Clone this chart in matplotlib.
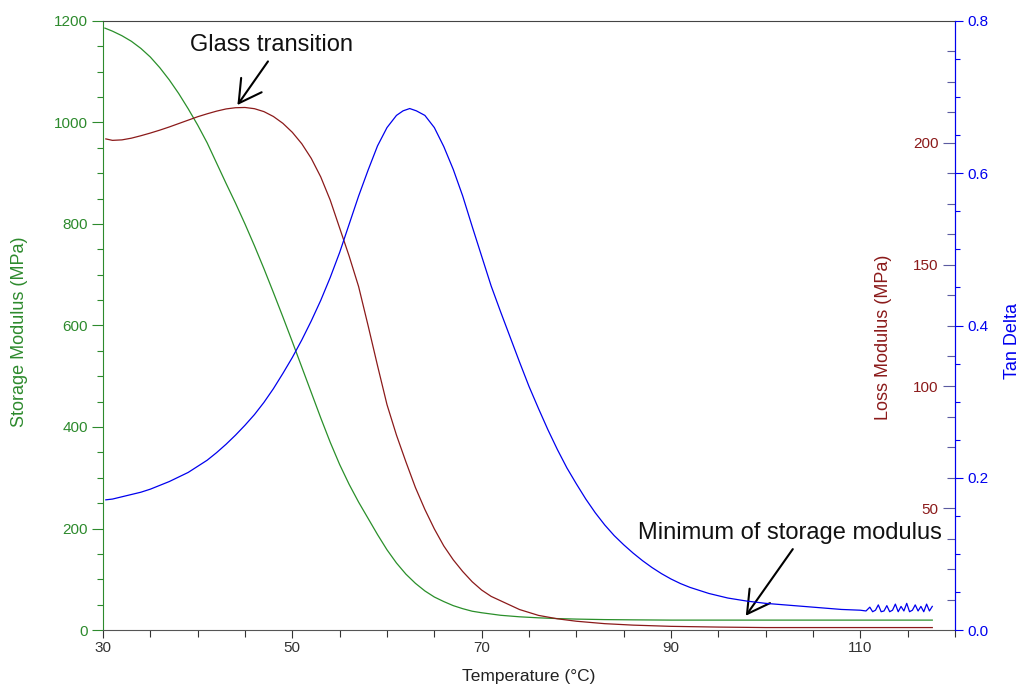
import matplotlib
matplotlib.use("Agg")
import matplotlib.pyplot as plt
from matplotlib.ticker import MultipleLocator, FixedLocator

plt.rcParams['font.family'] = ['Liberation Sans', 'DejaVu Sans']

# ---------------- data ----------------
storage_T = [30.2, 31, 32, 33, 34, 35, 36, 37, 38, 39, 40, 41, 42, 43, 44, 45, 46, 47,
             48, 49, 50, 51, 52, 53, 54, 55, 56, 57, 58, 59, 60, 61, 62, 63, 64, 65,
             66, 67, 68, 69, 70, 72, 74, 76, 78, 80, 83, 86, 90, 100, 110, 117.6]
storage_MPa = [1186, 1180, 1171, 1160, 1146, 1129, 1108, 1084, 1057, 1027, 995, 960,
               920, 880, 841, 800, 757, 712, 665, 617, 568, 518, 468, 418, 370, 326,
               287, 252, 220, 188, 158, 132, 110, 92, 77, 65, 56, 48, 42, 37, 34, 29,
               26, 24, 22.5, 21.5, 20.5, 20, 19.5, 19.5, 19.5, 19.5]

loss_T = [30.3, 31, 32, 33, 34, 35, 36, 37, 38, 39, 40, 41, 42, 43, 44, 45, 46, 47, 48,
          49, 50, 51, 52, 53, 54, 55, 56, 57, 58, 59, 60, 61, 62, 63, 64, 65, 66, 67,
          68, 69, 70, 71, 72, 74, 76, 78, 80, 83, 86, 90, 95, 100, 110, 117.6]
loss_MPa = [201.6, 201.0, 201.2, 201.9, 202.9, 204.0, 205.2, 206.5, 207.9, 209.3,
            210.7, 211.9, 213.0, 213.9, 214.4, 214.5, 214.0, 212.8, 210.8, 208.0,
            204.3, 199.6, 193.6, 186.0, 176.5, 165.0, 153.5, 141.0, 125.0, 108.5,
            92.5, 80.0, 69.0, 58.5, 49.5, 41.5, 34.5, 28.8, 24.0, 19.8, 16.4, 13.8,
            12.0, 8.4, 6.0, 4.6, 3.6, 2.6, 2.0, 1.5, 1.2, 1.0, 1.0, 1.0]

tan_T = [30.3, 31, 32, 33, 34, 35, 36, 37, 38, 39, 40, 41, 42, 43, 44, 45, 46, 47, 48,
         49, 50, 51, 52, 53, 54, 55, 56, 57, 58, 59, 60, 61, 61.7, 62.4, 63.1, 64, 65,
         66, 67, 68, 69, 70, 71, 72, 73, 74, 75, 76, 77, 78, 79, 80, 81, 82, 83, 84,
         85, 86, 87, 88, 89, 90, 91, 92, 93, 94, 95, 96, 98, 100, 102, 104, 106, 108,
         110, 110.6, 111.0, 111.3, 111.6, 111.9, 112.2, 112.5, 112.8, 113.1, 113.4,
         113.7, 114.0, 114.3, 114.6, 114.9, 115.2, 115.5, 115.8, 116.1, 116.4, 116.7,
         117.0, 117.3, 117.6]
tan_delta = [0.171, 0.172, 0.175, 0.178, 0.181, 0.185, 0.190, 0.195, 0.201, 0.207,
             0.215, 0.223, 0.233, 0.244, 0.256, 0.269, 0.283, 0.299, 0.317, 0.337,
             0.358, 0.381, 0.406, 0.433, 0.463, 0.496, 0.533, 0.570, 0.604, 0.636,
             0.660, 0.676, 0.682, 0.685, 0.682, 0.676, 0.660, 0.635, 0.605, 0.570,
             0.530, 0.491, 0.452, 0.418, 0.385, 0.352, 0.320, 0.291, 0.263, 0.237,
             0.213, 0.192, 0.172, 0.154, 0.138, 0.124, 0.112, 0.101, 0.091, 0.082,
             0.074, 0.067, 0.061, 0.056, 0.052, 0.048, 0.045, 0.042, 0.038, 0.035,
             0.033, 0.031, 0.029, 0.027, 0.026,
             0.025, 0.030, 0.024, 0.026, 0.033, 0.024, 0.025, 0.032, 0.024, 0.026,
             0.034, 0.024, 0.031, 0.025, 0.035, 0.024, 0.026, 0.033, 0.025, 0.031,
             0.024, 0.034, 0.025, 0.031]

x_ticks = [30, 50, 70, 90, 110]
storage_ticks = [0, 200, 400, 600, 800, 1000, 1200]
loss_ticks = [50, 100, 150, 200]
tan_ticks = [0.0, 0.2, 0.4, 0.6, 0.8]

# ---------------- styling ----------------
GREEN = '#2d8a2d'
GREEN_LINE = '#2a8f2a'
RED = '#8b1a1a'
BLUE = '#0000ee'

fig = plt.figure(figsize=(10.21, 6.86), dpi=100)
ax = fig.add_axes([103/1021, 56/686, 852/1021, 609/686])
ax2 = ax.twinx()
ax3 = ax.twinx()

ax.plot(storage_T, storage_MPa, color=GREEN_LINE, lw=0.9)
ax2.plot(loss_T, loss_MPa, color=RED, lw=0.9)
ax3.plot(tan_T, tan_delta, color=BLUE, lw=0.9)

ax.set_xlim(30, 120)
ax.set_ylim(0, 1200)
ax2.set_ylim(0, 250)
ax3.set_ylim(0, 0.8)

# x axis
ax.set_xticks(x_ticks)
ax.xaxis.set_minor_locator(MultipleLocator(5))
ax.tick_params(axis='x', which='major', direction='out', length=6, width=0.8,
               labelsize=11, colors='#333333', pad=2)
ax.tick_params(axis='x', which='minor', direction='out', length=5, width=0.8,
               colors='#333333')
ax.set_xlabel('Temperature (°C)', fontsize=12.5, color='#222222', labelpad=10)

# storage axis (left)
ax.set_yticks(storage_ticks)
ax.yaxis.set_minor_locator(MultipleLocator(50))
ax.tick_params(axis='y', which='major', direction='out', length=8, width=0.8,
               labelsize=11, colors=GREEN, pad=3)
ax.tick_params(axis='y', which='minor', direction='out', length=4.5, width=0.8,
               colors=GREEN)
ax.spines['left'].set_color(GREEN)
ax.spines['right'].set_visible(False)
ax.spines['top'].set_color('#444444')
ax.spines['bottom'].set_color('#555555')
ax.text(-0.098, 0.49, 'Storage Modulus (MPa)', transform=ax.transAxes, rotation=90,
        ha='center', va='center', fontsize=13, color=GREEN)

# loss axis (ticks on the inside of the right spine)
for s in ax2.spines.values():
    s.set_visible(False)
ax2.yaxis.tick_left()
ax2.spines['left'].set_position(('axes', 1.0))
ax2.spines['left'].set_visible(True)
ax2.spines['left'].set_color(BLUE)
ax2.yaxis.set_major_locator(FixedLocator(loss_ticks))
ax2.yaxis.set_minor_locator(FixedLocator([v * 12.5 for v in range(1, 20) if v % 4 != 0]))
ax2.tick_params(axis='y', which='major', direction='out', length=9, width=0.8,
                labelsize=11, colors='#5a5aa0', labelcolor=RED, pad=3)
ax2.tick_params(axis='y', which='minor', direction='out', length=5.5, width=0.8,
                colors='#5a5aa0')
ax2.text(0.9155, 0.48, 'Loss Modulus (MPa)', transform=ax.transAxes, rotation=90,
         ha='center', va='center', fontsize=13, color=RED)

# tan delta axis (right)
for s in ax3.spines.values():
    s.set_visible(False)
ax3.spines['right'].set_visible(True)
ax3.spines['right'].set_color(BLUE)
ax3.set_yticks(tan_ticks)
ax3.yaxis.set_minor_locator(MultipleLocator(0.05))
ax3.tick_params(axis='y', which='major', direction='out', length=6, width=0.8,
                labelsize=11, colors=BLUE, pad=3)
ax3.tick_params(axis='y', which='minor', direction='out', length=3.5, width=0.8,
                colors=BLUE)
ax3.set_yticklabels(['0.0', '0.2', '0.4', '0.6', '0.8'])
ax3.text(1.067, 0.475, 'Tan Delta', transform=ax.transAxes, rotation=90,
         ha='center', va='center', fontsize=13, color=BLUE)

# annotations
arrow = dict(arrowstyle='->, head_length=0.8, head_width=0.45', color='black',
             lw=1.5, shrinkA=2, shrinkB=0, mutation_scale=20)
ax2.annotate('Glass transition', xy=(44.2, 215.5), xytext=(47.8, 240),
             textcoords='data', ha='center', va='center', fontsize=17,
             color='#111111', arrowprops=dict(arrow, relpos=(0.5, 0.0)))
ax.annotate('Minimum of storage modulus', xy=(97.9, 28), xytext=(102.6, 191),
            textcoords='data', ha='center', va='center', fontsize=17,
            color='#111111', arrowprops=dict(arrow, relpos=(0.52, 0.0)))

fig.savefig('out.png', dpi=100)
